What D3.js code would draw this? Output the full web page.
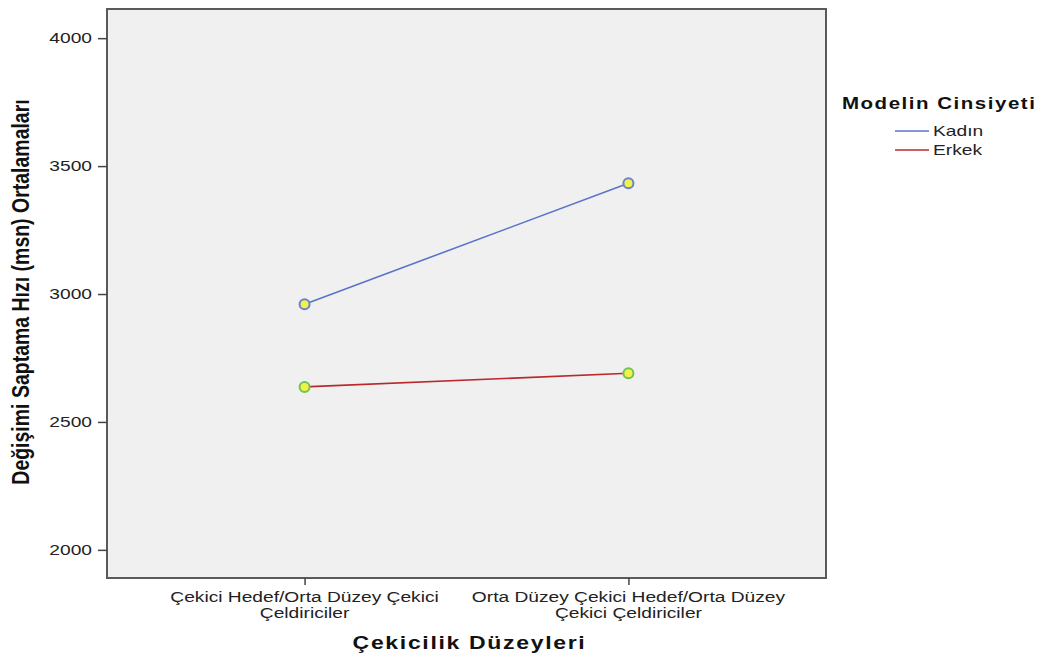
<!DOCTYPE html>
<html><head><meta charset="utf-8">
<script src="https://cdn.jsdelivr.net/npm/d3@7"></script>
<style>body{margin:0;background:#fff}</style>
</head><body>
<script>
const categories = [["Çekici Hedef/Orta Düzey Çekici","Çeldiriciler"],["Orta Düzey Çekici Hedef/Orta Düzey","Çekici Çeldiriciler"]];
const seriesNames = ["Kadın","Erkek"];
const kadinValues = [2960, 3433];
const erkekValues = [2637, 2690];
const yTicks = [2000, 2500, 3000, 3500, 4000];
const seriesColors = ["#5b73c8", "#b8282c"];
const markerStroke = ["#6a82cc", "#6cc64e"];

const W = 1046, H = 658, SX = 1.28;
const svg = d3.select("body").append("svg").attr("width", W).attr("height", H);
const m = {l:107, t:9, r:826, b:578};
const x = d3.scalePoint().domain([0,1]).range([m.l, m.r]).padding(0.61);
const y = d3.scaleLinear().domain([1890, 4114]).range([m.b, m.t]);
const font = "'Liberation Sans', Arial, sans-serif";

function stext(px, py, str, size, opts = {}) {
  const sx = opts.sx || SX;
  const t = svg.append("text").attr("transform", `translate(${px},${py}) scale(${sx},1)`)
    .attr("text-anchor", opts.anchor || "start").attr("font-family", font).attr("font-size", size)
    .attr("font-weight", opts.bold ? "bold" : "normal").attr("fill", opts.fill || "#222");
  if (opts.ls) t.attr("letter-spacing", opts.ls);
  t.text(str);
  return t;
}

svg.append("rect").attr("x", m.l).attr("y", m.t).attr("width", m.r-m.l).attr("height", m.b-m.t)
  .attr("fill", "#f0f0f0").attr("stroke", "#5a5a5a").attr("stroke-width", 2);

const yAxis = svg.append("g").attr("transform", `translate(${m.l},0)`)
  .call(d3.axisLeft(y).tickValues(yTicks).tickSize(9).tickFormat(d3.format("d")));
yAxis.select(".domain").remove();
yAxis.selectAll("line").attr("stroke", "#444").attr("stroke-width", 1.5);
yAxis.selectAll("text").attr("x", 0).attr("transform", `translate(-15,0) scale(${SX},1)`)
  .attr("font-family", font).attr("font-size", 15).attr("fill", "#222");

const xAxis = svg.append("g").attr("transform", `translate(0,${m.b})`)
  .call(d3.axisBottom(x).tickSize(7).tickFormat(""));
xAxis.select(".domain").remove();
xAxis.selectAll("line").attr("stroke", "#444").attr("stroke-width", 1.5);
categories.forEach((lines, i) => {
  lines.forEach((ln, j) => stext(x(i), 602 + j*15.5, ln, 14, {anchor: "middle", sx: 1.37}));
});

stext((m.l+m.r)/2 + 3, 649, "Çekicilik Düzeyleri", 18, {anchor: "middle", bold: true, ls: 1.3, fill: "#111"});

svg.append("text").attr("transform", "translate(29,292) scale(1.2,1) rotate(-90)").attr("text-anchor", "middle")
  .attr("font-family", font).attr("font-weight", "bold").attr("font-size", 19.5).attr("fill", "#111")
  .text("Değişimi Saptama Hızı (msn) Ortalamaları");

const data = [kadinValues, erkekValues];
const line = d3.line().x((d,i) => x(i)).y(d => y(d));
data.forEach((vals, s) => {
  svg.append("path").attr("d", line(vals)).attr("fill", "none")
    .attr("stroke", seriesColors[s]).attr("stroke-width", 1.6);
  svg.selectAll(null).data(vals).enter().append("circle")
    .attr("cx", (d,i) => x(i)).attr("cy", d => y(d)).attr("r", 5)
    .attr("fill", "#f2f04a").attr("stroke", markerStroke[s]).attr("stroke-width", 2);
});

stext(842, 109, "Modelin Cinsiyeti", 16, {bold: true, ls: 1.2, fill: "#111"});
seriesNames.forEach((n, i) => {
  const yy = 131 + i*19;
  svg.append("line").attr("x1", 895).attr("x2", 929).attr("y1", yy).attr("y2", yy)
    .attr("stroke", seriesColors[i]).attr("stroke-width", 1.6);
  stext(933, yy + 5, n, 15);
});
</script>
</body></html>
